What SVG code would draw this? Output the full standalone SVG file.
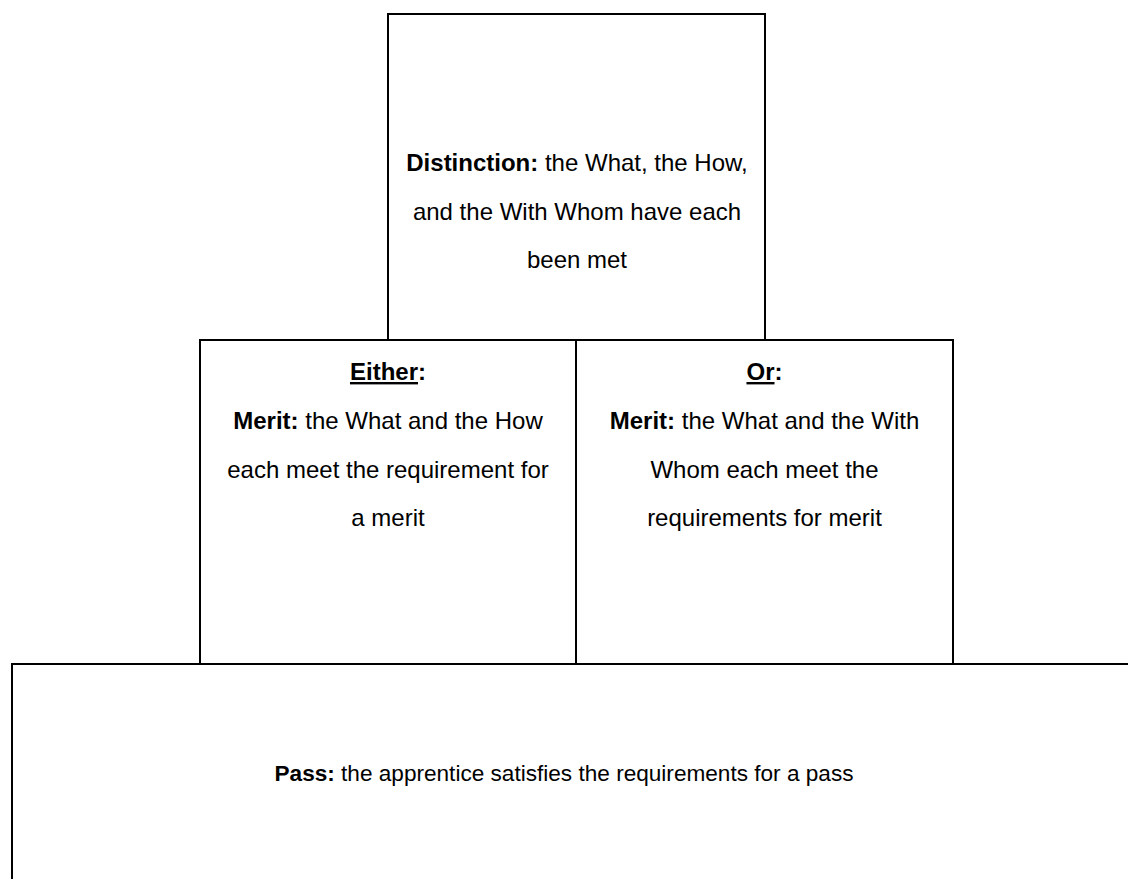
<svg xmlns="http://www.w3.org/2000/svg" width="1128" height="879" viewBox="0 0 1128 879">
<style>
  .box { fill: #ffffff; stroke: #000000; stroke-width: 2; }
  .t { font-family: "Liberation Sans", Arial, sans-serif; font-size: 24px; fill: #000000; text-anchor: middle; }
  .s { font-size: 22.6px; }
  .b { font-weight: bold; }
  .u { text-decoration: underline; }
</style>
<rect width="1128" height="879" fill="#ffffff"/>
<g id="pass">
  <rect class="box" x="12" y="664" width="1130" height="230"/>
  <text class="t s" x="564" y="781"><tspan class="b">Pass:</tspan> the apprentice satisfies the requirements for a pass</text>
</g>
<g id="merit-either">
  <rect class="box" x="200" y="340" width="376" height="324"/>
  <text class="t" x="388" y="380"><tspan class="b u">Either</tspan><tspan class="b">:</tspan></text>
  <text class="t" x="388" y="429"><tspan class="b">Merit:</tspan> the What and the How</text>
  <text class="t" x="388" y="478">each meet the requirement for</text>
  <text class="t" x="388" y="526">a merit</text>
</g>
<g id="merit-or">
  <rect class="box" x="576" y="340" width="377" height="324"/>
  <text class="t" x="764.5" y="380"><tspan class="b u">Or</tspan><tspan class="b">:</tspan></text>
  <text class="t" x="764.5" y="429"><tspan class="b">Merit:</tspan> the What and the With</text>
  <text class="t" x="764.5" y="478">Whom each meet the</text>
  <text class="t" x="764.5" y="526">requirements for merit</text>
</g>
<g id="distinction">
  <rect class="box" x="388" y="14" width="377" height="326"/>
  <text class="t" x="577" y="171"><tspan class="b">Distinction:</tspan> the What, the How,</text>
  <text class="t" x="577" y="220">and the With Whom have each</text>
  <text class="t" x="577" y="268">been met</text>
</g>
<g id="connectors"></g>
</svg>
